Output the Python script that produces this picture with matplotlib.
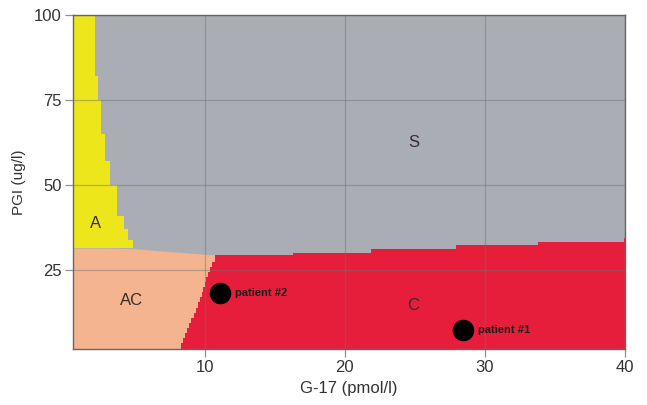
import matplotlib
matplotlib.use("Agg")
import matplotlib.pyplot as plt
import numpy as np

plt.rcParams["font.family"] = ["Liberation Sans", "DejaVu Sans"]

# axis ranges
G_MIN, G_MAX = 0.6, 40
P_MIN, P_MAX = 1.8, 100

# zone A (yellow): right edge of the zone per PGI band
a_pgi = [31.5, 34, 37, 41, 50, 57, 65, 75, 82, 100]
a_g = [4.9, 4.5, 4.2, 3.7, 3.2, 2.85, 2.6, 2.4, 2.15, 2.15]

# zone AC (peach): upper edge vs G-17
ac_g = [G_MIN, 3, 5, 7, 9, 10.3, 11.2]
ac_top = [31.5, 31.5, 31.3, 30.6, 30.0, 29.6, 29.4]

# zone C (red): left edge per PGI (staircase) and upper edge per G-17
c_left_pgi = [P_MIN, 3.5, 5, 6.5, 8, 9.5, 11, 12.5, 14, 15.5, 17, 18.5,
              20, 21.5, 23, 24.5, 26, 27.5, 29.4]
c_left_g = [8.3, 8.45, 8.6, 8.75, 8.9, 9.05, 9.2, 9.35, 9.5, 9.65, 9.8, 9.9,
            10.0, 10.1, 10.2, 10.35, 10.5, 10.7, 10.9]
c_top_g = [10.9, 16.3, 21.9, 27.9, 33.8, 39.9, G_MAX]
c_top = [29.4, 30.1, 31.2, 32.4, 33.2, 34.4, 34.4]

# patients
pat_names = ["patient #1", "patient #2"]
pat_g = [28.4, 11.1]
pat_pgi = [7.4, 18.2]

# zone labels
zone_names = ["S", "A", "AC", "C"]
zone_g = [24.9, 2.2, 4.8, 24.9]
zone_pgi = [62.5, 38.8, 16.2, 14.7]

GRAY = "#aaadb4"
YELLOW = "#ece61a"
PEACH = "#f4b48f"
RED = "#e61e3c"

fig = plt.figure(figsize=(6.47, 4.05), dpi=100)
ax = fig.add_axes([0.113, 0.138, 0.853, 0.825])
ax.set_facecolor(GRAY)

ax.fill_betweenx(a_pgi, G_MIN, a_g, step="post", color=YELLOW, lw=0, zorder=1)
ax.fill_between(ac_g, P_MIN, ac_top, color=PEACH, lw=0, zorder=1)
ax.fill_betweenx(c_left_pgi, c_left_g, G_MAX, step="post", color=RED, lw=0, zorder=2)
ax.fill_between(c_top_g, P_MIN, c_top, step="post", color=RED, lw=0, zorder=2)

ax.set_xlim(G_MIN, G_MAX)
ax.set_ylim(P_MIN, P_MAX)
ax.set_xticks([10, 20, 30, 40])
ax.set_yticks([25, 50, 75, 100])
ax.grid(True, color="#707070", alpha=0.45, lw=0.9, zorder=3)
ax.set_axisbelow(False)
ax.tick_params(length=6, width=0.9, color="#909090", labelsize=12,
               labelcolor="#333333", pad=2)
for s in ax.spines.values():
    s.set_color("#666666")
    s.set_linewidth(1.0)
    s.set_zorder(5)

ax.set_xlabel("G-17 (pmol/l)", fontsize=12, color="#333333", labelpad=4)
ax.set_ylabel("PGI (ug/l)", fontsize=11, color="#333333", labelpad=6)

for name, g, p in zip(zone_names, zone_g, zone_pgi):
    ax.text(g, p, name, ha="center", va="center", fontsize=12,
            color="#3a2a2a", zorder=6)

ax.scatter(pat_g, pat_pgi, s=210, color="black", zorder=6)
for name, g, p in zip(pat_names, pat_g, pat_pgi):
    ax.annotate(name, (g, p), xytext=(11, 0), textcoords="offset points",
                ha="left", va="center", fontsize=8, fontweight="bold",
                color="#1a1a1a", zorder=6)

fig.savefig("out.png", dpi=100)
